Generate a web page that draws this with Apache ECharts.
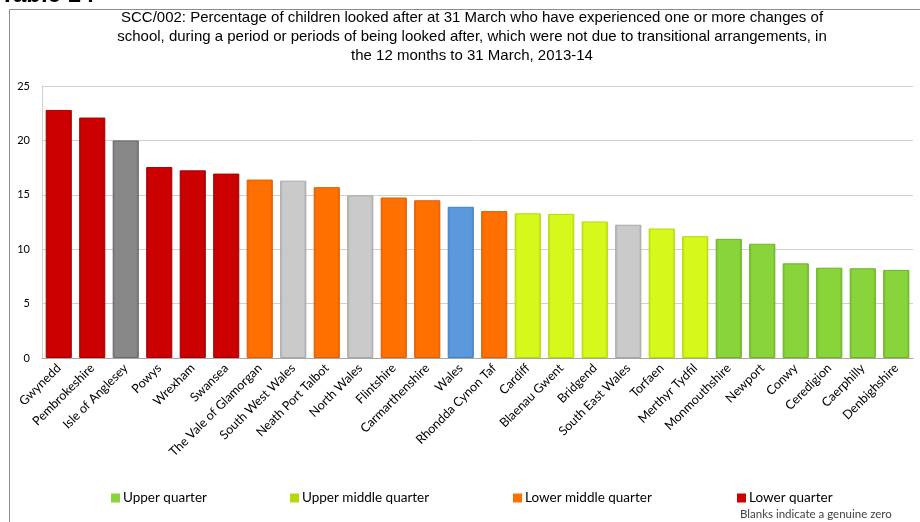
<!DOCTYPE html>
<html><head><meta charset="utf-8">
<script src="https://cdn.jsdelivr.net/npm/echarts@6/dist/echarts.min.js"></script>
<style>html,body{margin:0;padding:0;background:#fff}#c{width:920px;height:522px}</style>
</head><body><div id="c"></div>
<script>
const categories = ["Gwynedd","Pembrokeshire","Isle of Anglesey","Powys","Wrexham","Swansea","The Vale of Glamorgan","South West Wales","Neath Port Talbot","North Wales","Flintshire","Carmarthenshire","Wales","Rhondda Cynon Taf","Cardiff","Blaenau Gwent","Bridgend","South East Wales","Torfaen","Merthyr Tydfil","Monmouthshire","Newport","Conwy","Ceredigion","Caerphilly","Denbighshire"];
const values = [22.8,22.1,20.0,17.55,17.25,16.95,16.4,16.3,15.7,14.95,14.75,14.5,13.9,13.5,13.3,13.25,12.55,12.25,11.9,11.2,10.95,10.5,8.7,8.3,8.25,8.1];
const groups = ["lower","lower","anglesey","lower","lower","lower","lowermid","region","lowermid","region","lowermid","lowermid","wales","lowermid","uppermid","uppermid","uppermid","region","uppermid","uppermid","upper","upper","upper","upper","upper","upper"];
const legendNames = ["Upper quarter","Upper middle quarter","Lower middle quarter","Lower quarter"];
const yTicks = [0,5,10,15,20,25];

const colours = {
  upper: ["#88d43a","#6cb424"],
  uppermid: ["#d6f81a","#b8d80c"],
  lowermid: ["#ff7000","#e05c00"],
  lower: ["#cc0000","#a80000"],
  region: ["#cacaca","#a8a8a8"],
  anglesey: ["#888888","#6a6a6a"],
  wales: ["#5c98dc","#4680c4"]
};
function grad(c){return new echarts.graphic.LinearGradient(0,0,1,0,[{offset:0,color:c[1]},{offset:0.1,color:c[0]},{offset:0.9,color:c[0]},{offset:1,color:c[1]}]);}
const data = values.map((v,i)=>{
  const c = colours[groups[i]];
  return {value:v,itemStyle:{color:grad(c),borderColor:c[1],borderWidth:1}};
});
const legendColours = [colours.upper[0],colours.uppermid[1],colours.lowermid[0],colours.lower[0]];
const legendLefts = [111,290,513,737];

const chart = echarts.init(document.getElementById('c'));
const series = [{
  type:'bar', name:'values', data:data, barCategoryGap:'22%', stack:'s'
}];
legendNames.forEach((n,i)=>series.push({type:'bar',name:n,data:[],stack:'s',itemStyle:{color:legendColours[i]}}));
chart.setOption({
  animation:false,
  backgroundColor:'#fff',
  title:{
    text:'SCC/002: Percentage of children looked after at 31 March who have experienced one or more changes of\nschool, during a period or periods of being looked after, which were not due to transitional arrangements, in\nthe 12 months to 31 March, 2013-14',
    left:467, top:3, textAlign:'center',
    textStyle:{fontFamily:'Liberation Sans',fontSize:15,fontWeight:'normal',color:'#000',lineHeight:19,align:'center'}
  },
  graphic:[
    {type:'rect',shape:{x:9.5,y:9.5,width:1000,height:1000},style:{fill:'none',stroke:'#8c8c8c',lineWidth:1}},
    {type:'text',left:0,top:-17,style:{text:'Table 14',font:'bold 24px Liberation Sans',fill:'#000'}},
    {type:'text',left:740,top:508,style:{text:'Blanks indicate a genuine zero',font:'11.5px Lato',fill:'#404040'}}
  ],
  legend: legendNames.map((n,i)=>({
    data:[n], left:legendLefts[i], top:491, padding:0, itemWidth:9, itemHeight:9, itemGap:3, icon:'rect',
    textStyle:{fontFamily:'Lato',fontSize:13.5,color:'#000',padding:[0,0,0,-2]}
  })),
  grid:{left:42,right:7,top:86,bottom:164,containLabel:false},
  xAxis:{type:'category',data:categories,
    axisLine:{lineStyle:{color:'#a6a6a6'}},axisTick:{show:false},
    axisLabel:{rotate:45,interval:0,fontFamily:'Lato',fontSize:12.5,color:'#000',margin:8}},
  yAxis:{type:'value',min:0,max:25,interval:5,
    axisLine:{show:true,lineStyle:{color:'#d0d0d0'}},
    splitLine:{lineStyle:{color:'#d0d0d0'}},
    axisLabel:{fontFamily:'Lato',fontSize:11,color:'#000',margin:12}},
  series:series
});
</script></body></html>
